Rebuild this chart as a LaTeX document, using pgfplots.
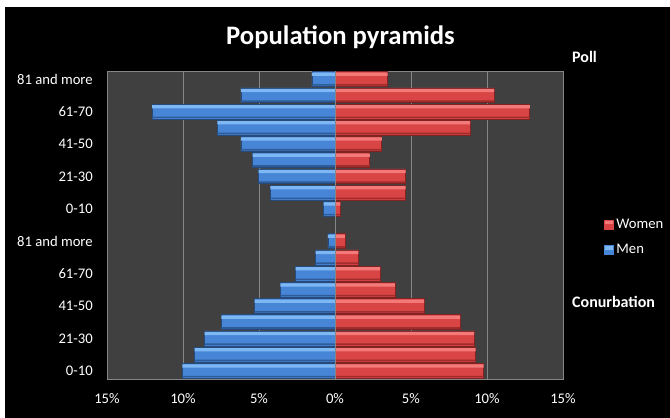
\documentclass[border=0pt]{standalone}
\usepackage{pgfplots}
\usepackage{pgfplotstable}
\pgfplotsset{compat=1.18}
\usepackage{fontspec}
\setmainfont{Carlito}

\definecolor{plotbg}{HTML}{404040}
\definecolor{gridc}{HTML}{868686}
\definecolor{menmain}{HTML}{4785D6}
\definecolor{mentop}{HTML}{7DB8F5}
\definecolor{menbot}{HTML}{2F5C98}
\definecolor{womain}{HTML}{D94444}
\definecolor{wotop}{HTML}{F47A7A}
\definecolor{wobot}{HTML}{A02C2C}

% rows 0-8: conurbation (0-10 ... 81 and more), row 9 empty, rows 10-18: poll
\pgfplotstableread{
row value
0  9.78
1  9.25
2  9.16
3  8.24
4  5.86
5  3.94
6  2.97
7  1.54
8  0.66
10 0.35
11 4.65
12 4.65
13 2.29
14 3.08
15 8.90
16 12.82
17 10.48
18 3.46
}\women

\pgfplotstableread{
row value
0  -10.04
1  -9.23
2  -8.57
3  -7.47
4  -5.29
5  -3.59
6  -2.58
7  -1.28
8  -0.46
10 -0.75
11 -4.25
12 -5.02
13 -5.42
14 -6.19
15 -7.73
16 -12.03
17 -6.19
18 -1.52
}\men

\begin{document}
\begin{tikzpicture}[x=0.75pt,y=0.75pt]
\fill[white] (0,0) rectangle (670,418);
\fill[black] (5,0) rectangle (670,411);
\node[white, font=\fontsize{20}{24}\selectfont\bfseries, anchor=base, inner sep=0pt] at (340.5,373) {Population pyramids};
\node[white, font=\fontsize{12}{14}\selectfont\bfseries, anchor=base west, inner sep=0pt] at (572,355) {Poll};
\node[white, font=\fontsize{12}{14}\selectfont\bfseries, anchor=base west, inner sep=0pt] at (572,110) {Conurbation};

\begin{axis}[
  at={(80.25pt,29.25pt)}, anchor=south west,
  scale only axis, width=342pt, height=231pt,
  xbar, bar shift=0pt, bar width=0.92,
  xmin=-15, xmax=15, ymin=-0.5, ymax=18.5,
  axis background/.style={fill=plotbg},
  axis line style={gridc},
  xtick={-15,-10,...,15},
  xticklabels={15\%,10\%,5\%,0\%,5\%,10\%,15\%},
  ytick={0,2,4,6,8,10,12,14,16,18},
  yticklabels={0-10,21-30,41-50,61-70,81 and more,0-10,21-30,41-50,61-70,81 and more},
  major tick length=0pt, tick style={draw=none},
  xmajorgrids, grid style={gridc, line width=0.6pt},
  ticklabel style={text=white, font=\fontsize{11}{13}\selectfont, inner sep=0pt},
  yticklabel style={anchor=east, xshift=-10.5pt},
  xticklabel style={anchor=base, yshift=-18.75pt},
  legend style={at={(1.081,0.46)}, anchor=west, draw=none, fill=none,
    text=white, font=\fontsize{11}{13}\selectfont, row sep=6.8pt},
  legend cell align=left,
]
% main bar bodies
\addplot[fill=womain, draw=wobot!80!black, line width=0.5pt,
  legend image code/.code={
    \fill[womain] (0pt,-3.4pt) rectangle (6.75pt,3.4pt);
    \fill[wotop] (0.8pt,0.6pt) rectangle (5.95pt,2.6pt);}]
  table[x=value, y=row] {\women};
\addlegendentry{Women}
\addplot[fill=menmain, draw=menbot!80!black, line width=0.5pt,
  legend image code/.code={
    \fill[menmain] (0pt,-3.4pt) rectangle (6.75pt,3.4pt);
    \fill[mentop] (0.8pt,0.6pt) rectangle (5.95pt,2.6pt);}]
  table[x=value, y=row] {\men};
\addlegendentry{Men}
% bevel: light upper strip and dark lower strip on each bar
\addplot[forget plot, fill=wotop, draw=none, bar width=0.2]
  table[x=value, y expr=\thisrow{row}+0.3] {\women};
\addplot[forget plot, fill=mentop, draw=none, bar width=0.2]
  table[x=value, y expr=\thisrow{row}+0.3] {\men};
\addplot[forget plot, fill=wobot, draw=none, bar width=0.1]
  table[x=value, y expr=\thisrow{row}-0.36] {\women};
\addplot[forget plot, fill=menbot, draw=none, bar width=0.1]
  table[x=value, y expr=\thisrow{row}-0.36] {\men};
\draw[gridc, line width=0.6pt] (axis cs:0,-0.5) -- (axis cs:0,18.5);
\end{axis}
\end{tikzpicture}
\end{document}
